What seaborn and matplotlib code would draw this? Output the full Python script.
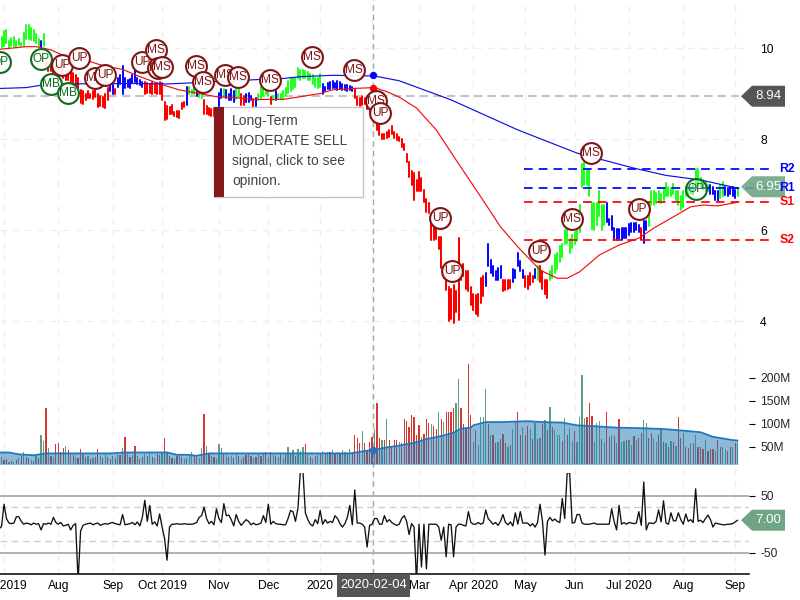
import numpy as np
import pandas as pd
import matplotlib
matplotlib.use("Agg")
import matplotlib.pyplot as plt
from matplotlib.patches import Polygon, Rectangle
import seaborn as sns

sns.set_theme(style="white")
plt.rcParams['font.family'] = ['Liberation Sans', 'DejaVu Sans']

# ---------- DATA ----------
first_bar = -2   # trading-day number of the first bar (0 = 1 Jul 2019)
bar_high = [
 10.2,10.25,10.38,10.4,10.15,10.22,10.24,10.15,10.2,10.12,
 10.33,10.5,10.5,10.45,10.4,10.3,10.2,10.15,10.3,9.78,
 9.7,9.7,9.65,9.6,9.62,9.65,9.55,9.5,9.5,9.55,
 9.45,9.4,9.35,9.08,9.05,9.0,9.05,9.0,9.05,9.08,
 8.98,8.95,8.92,9.0,9.12,9.2,9.18,9.1,9.35,9.4,
 9.6,9.35,9.3,9.32,9.4,9.55,9.35,9.3,9.25,9.25,
 9.22,9.2,9.25,9.2,9.22,9.25,9.22,8.82,8.72,8.7,
 8.75,8.6,8.62,8.62,8.8,8.82,9.15,9.15,9.08,9.2,
 9.15,9.05,9.0,8.85,8.72,8.68,8.65,8.68,8.62,9.02,
 9.1,9.1,9.08,9.0,9.1,9.05,9.1,9.1,8.98,8.95,
 9.0,9.02,8.95,8.88,8.9,9.0,9.15,9.12,9.05,9.08,
 8.92,8.95,9.05,9.0,9.0,9.05,9.12,9.28,9.35,9.35,
 9.35,9.55,9.52,9.52,9.5,9.48,9.42,9.4,9.35,9.35,
 9.42,9.2,9.15,9.22,9.25,9.28,9.22,9.28,9.25,9.2,
 9.18,9.18,9.17,9.15,9.1,8.92,8.9,8.95,8.9,8.85,
 8.75,8.7,8.6,8.4,8.35,8.1,8.1,8.15,8.2,8.28,
 8.15,8.1,8.05,8.0,
 7.9,7.68,7.5,7.3,7.25,7.1,7.28,7.15,6.88,6.68,
 6.6,6.15,6.1,6.05,5.85,5.85,5.2,5.27,4.75,4.7,
 4.8,4.65,5.82,5.2,5.25,5.1,5.1,4.75,4.6,4.58,
 4.6,4.95,5.0,5.05,5.7,5.35,5.2,5.1,5.17,5.2,
 4.9,4.9,4.9,4.9,5.15,5.12,5.5,5.32,5.12,5.0,
 5.0,5.05,5.0,5.15,5.2,5.2,5.1,4.9,4.9,5.1,
 5.2,5.45,5.5,5.65,5.7,6.0,6.05,5.8,5.9,5.95,
 6.0,6.55,7.45,7.48,7.35,7.35,6.6,6.6,6.6,6.85,
 6.55,6.55,6.6,6.25,6.3,6.05,6.02,6.02,6.05,6.05,
 6.05,6.13,6.15,6.15,6.15,6.12,6.05,6.2,6.2,6.62,
 6.85,6.85,6.82,6.85,6.8,6.9,7.03,6.95,6.92,7.02,
 6.85,6.85,6.75,6.85,6.95,6.95,6.95,7.03,7.33,7.33,
 7.15,7.1,7.05,7.0,6.98,6.95,6.85,6.85,7.0,7.05,
 6.95,6.93,6.95,6.95,6.88,6.93]
bar_low = [
 10.0,10.02,10.05,10.1,10.0,10.05,10.05,10.02,10.06,10.04,
 10.05,10.2,10.2,10.17,10.15,10.1,10.05,10.0,10.05,9.6,
 9.5,9.5,9.45,9.42,9.4,9.45,9.35,9.3,9.3,9.25,
 9.15,9.05,9.0,8.8,8.78,8.85,8.9,8.9,8.88,8.92,
 8.7,8.72,8.7,8.68,8.85,9.05,9.0,9.0,9.15,9.2,
 9.0,9.12,9.15,9.12,9.22,9.25,9.2,9.18,9.15,9.0,
 9.02,9.02,9.0,9.02,9.0,9.0,8.85,8.42,8.45,8.55,
 8.55,8.5,8.48,8.47,8.65,8.7,8.75,8.98,8.98,9.0,
 8.95,8.92,8.9,8.55,8.55,8.52,8.5,8.5,8.48,8.68,
 8.9,8.92,8.9,8.85,8.85,8.82,8.88,8.92,8.75,8.74,
 8.82,8.82,8.85,8.7,8.72,8.85,8.9,8.95,8.98,8.95,
 8.78,8.85,8.85,8.88,8.88,8.9,8.95,9.02,9.05,9.1,
 9.15,9.35,9.3,9.35,9.35,9.3,9.3,9.2,9.15,9.12,
 9.15,9.0,9.05,9.1,9.1,9.12,9.12,9.08,9.1,9.08,
 9.08,9.05,9.08,9.05,8.9,8.75,8.72,8.75,8.78,8.65,
 8.62,8.55,8.4,8.2,8.08,8.0,8.0,8.02,8.05,8.12,
 8.02,7.98,7.95,7.83,
 7.75,7.5,7.17,7.0,6.66,6.85,6.85,6.85,6.62,6.4,
 6.37,5.78,5.78,5.8,5.58,5.16,4.95,4.68,4.0,4.05,
 3.95,4.2,4.03,4.9,4.98,4.7,4.65,4.35,4.25,4.15,
 4.1,4.4,4.55,4.78,5.2,5.05,4.98,4.9,4.9,4.95,
 4.67,4.68,4.7,4.72,4.85,4.95,5.2,5.1,4.95,4.75,
 4.7,4.8,4.85,4.95,4.9,4.85,4.7,4.6,4.5,4.9,
 4.95,5.05,5.15,5.3,5.4,5.7,5.72,5.5,5.6,5.7,
 5.75,5.95,6.95,6.98,6.98,6.75,6.02,6.0,6.1,6.3,
 6.0,6.1,6.18,6.12,6.0,5.8,5.78,5.8,5.78,5.82,
 5.82,5.9,5.95,5.95,6.0,5.95,5.78,5.72,6.0,6.08,
 6.55,6.55,6.6,6.62,6.6,6.65,6.75,6.75,6.75,6.8,
 6.65,6.55,6.45,6.5,6.75,6.75,6.8,6.8,6.95,7.0,
 6.95,6.9,6.85,6.85,6.8,6.8,6.65,6.63,6.7,6.75,
 6.78,6.75,6.8,6.75,6.7,6.75]
signal_runs = [("G",17),("B",1),("G",1),("R",26),("B",2),("R",1),("B",11),("R",17),("B",1),
               ("G",3),("B",1),("G",2),("R",6),("B",2),("G",1),("B",4),("G",2),("R",2),("B",3),
               ("R",1),("B",1),("G",5),("R",1),("G",1),("B",1),("G",18),("B",13),("R",53),("B",7),
               ("R",4),("B",5),("R",4),("B",1),("G",1),("R",4),("G",23),("B",14),("R",1),("B",2),
               ("G",25),("B",4),("G",2),("B",5),("G",1)]

volume_m = [
 30,28,22,24,18,20,18,22,26,30,
 38,28,26,22,20,30,26,76,62,134,
 47,30,28,56,58,40,47,52,44,34,
 32,28,26,45,36,28,30,24,26,28,
 45,30,26,34,28,24,30,26,34,32,
 47,71,36,28,32,52,30,24,28,34,
 30,36,28,26,34,32,38,69,36,30,
 26,24,30,34,28,24,26,30,40,32,
 28,26,47,122,52,34,30,28,24,56,
 47,36,32,28,30,26,34,30,24,28,
 32,36,30,26,28,34,30,36,38,28,
 38,32,30,28,36,26,34,50,36,44,
 30,45,42,50,56,34,28,24,30,32,
 34,42,36,40,38,44,34,40,36,44,
 40,36,46,38,76,69,59,85,58,42,
 60,71,88,145,70,65,65,110,65,50,
 65,65,60,58,
 110,107,93,120,116,76,97,71,78,110,
 103,101,96,89,125,110,105,125,125,126,
 134,145,197,135,99,92,230,120,60,87,
 55,115,116,175,100,76,76,58,60,68,
 78,58,50,54,89,105,125,75,94,75,
 96,89,67,102,67,70,100,108,86,136,
 94,86,75,76,62,112,76,92,62,84,
 60,115,207,112,115,145,117,60,102,107,
 67,60,125,72,76,74,58,110,60,62,
 66,66,55,73,66,70,80,108,102,70,
 80,69,60,76,90,60,58,50,62,60,
 52,115,69,81,50,48,58,58,76,50,
 50,45,66,41,46,45,41,66,50,50,
 45,41,50,50,58,58]
volume_dir = ("DUDDUDUDUD" "UDDUDUDUUD" "UDUDDDDUDU" "DUDDUDUDUD" "DUDUDDUDUD" "UDUDUDUDDU"
              "DUDUDDUDUD" "DUDUDUDUUD" "DUUDUDUDUU" "UDUDUDUDUD" "DUDUDUDUDU" "DUDUDUDUDU"
              "DUUUDUDUDU" "DUDUDUDUDU" "UDUDDDDUDD" "DDUDDUDUDD" "DDUD"
              "DDDDDDDUDD" "DUDDUDUDDD" "DUUDDDDDUD" "UUUUDUDDUD" "DDUDUUDDUD" "DUDUDUDUDU"
              "DUUUDUDUUD" "UUUUDDDUUU" "DUDDUDUDUU" "DUUDUDDUUD" "DUUDUDUDUD" "UDDUDDUDUD"
              "DDUDDDUDDU" "UDDUDU")
vol_avg_i = [-2,2,6,12,17,43,49,66,70,74,78,83,140,147,150,155,160,166,171,178,182,185,189,190,195,
             201,212,218,226,232,239,248,257,267,276,282,287,295,297]
vol_avg_m = [38,38,34,32,36,36,38,38,33,33,31,36,36,42,44,49,53,59,67,75,81,90,92,97,104,
             104,106,104,103,97,95,92,91,89,85,82,72,65,64]

osc = [
 -8,-4,35,10,2,1,2,13,13,5,
 0,2,1,-1,2,0,1,-10,1,0,
 2,0,12,3,0,3,-3,-2,0,-10,
 -2,1,-100,-12,-2,0,1,2,-1,1,
 2,-2,0,1,0,2,3,1,0,-1,
 17,-1,0,1,3,-1,4,-3,12,42,
 5,33,0,4,-3,18,-5,-25,-63,-5,
 0,0,1,0,0,1,0,0,0,1,
 3,12,15,30,10,1,5,-1,27,10,
 3,36,15,16,8,-3,17,5,-2,3,
 8,5,-1,2,-1,0,2,15,3,35,
 0,5,1,0,0,-1,-1,10,24,22,
 5,28,95,95,20,8,0,-3,8,1,
 24,0,8,2,5,3,15,10,1,-5,
 1,12,33,-1,60,2,2,0,-5,-40,
 -2,0,10,10,0,0,15,4,8,3,
 0,-2,0,10,
 15,5,-18,1,-5,-100,0,-75,0,-78,
 0,0,0,0,-5,-28,-5,-57,0,-1,
 -57,-5,0,0,-2,-3,22,3,0,0,
 3,0,2,25,10,5,0,3,-2,5,
 17,3,-1,4,-3,20,0,22,2,2,
 2,-3,1,-5,3,35,5,-54,5,12,
 6,9,5,3,45,10,90,90,2,3,
 17,17,2,0,0,0,1,2,0,0,
 0,0,0,0,27,5,-10,33,0,3,
 0,3,2,1,2,22,-2,74,-10,2,
 2,1,5,25,4,41,2,0,20,6,
 6,20,8,0,18,5,8,3,62,5,
 7,3,10,16,8,-5,2,1,0,-1,
 -1,0,0,1,4,7]

ma_red_i = [-2,9,13,19,25,32,39,44,48,55,63,71,79,86,93,101,113,120,128,133,141,150,155,160,167,175,
            183,193,201,208,217,224,228,233,241,249,257,263,271,278,283,289,297]
ma_red = [9.97,10.03,10.03,9.96,9.81,9.75,9.63,9.57,9.53,9.37,9.21,9.08,9.0,8.93,8.91,8.87,8.87,8.93,
          9.0,9.08,9.11,9.13,9.04,8.92,8.68,8.2,7.54,6.73,6.07,5.63,5.12,4.94,4.94,5.08,5.45,5.67,
          5.82,6.04,6.29,6.51,6.55,6.53,6.61]
ma_blue_i = [-2,9,16,25,52,66,79,93,104,113,120,133,150,160,170,181,208,232,255,268,282,297]
ma_blue = [9.11,9.13,9.19,9.21,9.22,9.21,9.24,9.28,9.31,9.33,9.37,9.4,9.385,9.28,9.08,8.86,8.2,7.69,
           7.36,7.2,7.1,6.92]

mark_label = ["OP","OP","MB","MB","UP","UP","MS","UP","UP","MS","MS","MS","MS","MS","MS","MS","MS",
              "MS","MS","MS","UP","UP","UP","UP","MS","MS","UP","OP"]
mark_i = [-1.6,15,19,25.9,23.5,30.4,36.8,40.9,55.9,61.5,62.3,64,77.7,80.6,89.5,94.7,107.7,124.7,141.7,
          150.6,152.2,176.5,181.4,216.6,230,237.7,257,280.2]
mark_price = [9.69,9.76,9.21,9.01,9.63,9.78,9.34,9.41,9.69,9.96,9.56,9.58,9.6,9.25,9.41,9.36,9.3,9.8,
              9.52,8.84,8.57,6.26,5.1,5.54,6.24,7.69,6.46,6.9]

month_i = [0,22,44,64,87,107,128,168,190,211,231,253,275,296]
month_lbl = ["Jul 2019","Aug","Sep","Oct 2019","Nov","Dec","2020","Mar","Apr 2020","May","Jun",
             "Jul 2020","Aug","Sep"]
feb_i = 149
cross_i = 149.5
cross_date = "2020-02-04"
last_ref_price = 8.94
cross_blue = 9.4
cross_red = 9.13
cross_vol = 43
sr_levels = [("R2",7.34,"#0000ff"),("R1",6.92,"#0000ff"),("S1",6.62,"#ff0000"),("S2",5.78,"#ff0000")]
last_close = 6.95
last_osc = 7.00
tooltip_lines = ["Long-Term","MODERATE SELL","signal, click to see","opinion."]

# ---------- FRAMES ----------
signal = [c for c, n in signal_runs for _ in range(n)]
bar_i = list(range(first_bar, first_bar + len(bar_high)))
assert len(bar_high) == len(bar_low) == len(signal) == len(volume_m) == len(volume_dir) == len(osc)
df_bars = pd.DataFrame({"i": bar_i + bar_i, "p": bar_high + bar_low, "signal": signal + signal,
                        "bar": bar_i + bar_i})
df_vol = pd.DataFrame({"i": bar_i, "v": volume_m, "dir": list(volume_dir)})
df_osc = pd.DataFrame({"i": bar_i, "v": osc})

# ---------- LAYOUT ----------
W, H = 800, 600
fig = plt.figure(figsize=(W / 100, H / 100), dpi=100, facecolor="white")
def axes_px(x0, y0, x1, y1, **kw):
    return fig.add_axes([x0 / W, 1 - y1 / H, (x1 - x0) / W, (y1 - y0) / H], **kw)
def fx(x): return x / W
def fy(y): return 1 - y / H

xlim = (-1.62, 301.6)
bg = axes_px(0, 0, 749, 574)
ax = axes_px(0, 0, 749, 360, facecolor="none")
av = axes_px(0, 360, 749, 464, facecolor="none")
ao = axes_px(0, 473, 749, 574, facecolor="none")
for a in (bg, ax, av, ao):
    a.set_xlim(*xlim)
    for s in a.spines.values():
        s.set_visible(False)
    a.set_xticks([]); a.set_yticks([])
    a.set_xlabel(""); a.set_ylabel("")

# background month grid and crosshair
bg.set_ylim(0, 1)
bg.vlines(month_i + [feb_i], 0, 1, color="#eeeeee", lw=0.9, linestyles=(0, (5, 5)))
bg.vlines([cross_i], 0, 1, color="#a8a8a8", lw=1.0, linestyles=(0, (4, 3)), zorder=5)
bg.set_xticks([]); bg.set_yticks([])

# ---------- PRICE ----------
ax.set_ylim(3.143, 11.055)
ax.hlines([4, 6, 8, 10], *xlim, color="#eeeeee", lw=0.9, linestyles=(0, (5, 5)), zorder=0)
ax.hlines([last_ref_price], xlim[0], 297.5, color="#c4c4c4", lw=1.5, linestyles=(0, (4, 2.5)), zorder=1)
sns.lineplot(data=df_bars, x="i", y="p", units="bar", hue="signal", estimator=None, sort=False,
             palette={"G": "#22ff22", "B": "#0a0aff", "R": "#ff0000"}, lw=1.45, legend=False, ax=ax,
             zorder=3)
sns.lineplot(x=ma_red_i, y=ma_red, color="#f01010", lw=0.85, ax=ax, zorder=4)
sns.lineplot(x=ma_blue_i, y=ma_blue, color="#1010e0", lw=0.85, ax=ax, zorder=4)
sns.scatterplot(x=[cross_i], y=[cross_blue], color="#0000ff", s=28, linewidth=0, ax=ax, zorder=6)
sns.scatterplot(x=[cross_i], y=[cross_red], color="#ff0000", s=28, linewidth=0, ax=ax, zorder=6)

for k, (lab, mi, mp) in enumerate(zip(mark_label, mark_i, mark_price)):
    col = "#0f6b1f" if lab in ("OP", "MB") else "#7f1515"
    lw = 1.5
    fc = (1, 1, 1, 0.35) if k == len(mark_label) - 1 else (1, 1, 1, 0.92)
    ax.scatter([mi], [mp], s=225, facecolor=fc, edgecolor=col, linewidth=lw, zorder=10 + k, clip_on=True)
    ax.text(mi, mp, lab, color=col, fontsize=8.6, ha="center", va="center", zorder=10 + k)

trans = ax.get_yaxis_transform()
for lab, lev, col in sr_levels:
    ax.hlines([lev], 210.4, 311, color=col, lw=1.25, linestyles=(0, (5, 3.5)), zorder=5, clip_on=False)

ax.set_yticks([4, 6, 8, 10], ["4", "6", "8", "10"])
ax.yaxis.tick_right()
ax.tick_params(axis="y", length=0, pad=8, labelsize=8.64, labelcolor="black")
ax.set_xticks([]); ax.set_xlabel(""); ax.set_ylabel("")
ax.set_xlim(*xlim)

# ---------- VOLUME ----------
av.set_ylim(13, 239)
sns.barplot(data=df_vol, x="i", y="v", hue="dir", native_scale=True, dodge=False, width=0.5,
            palette={"U": "#5aa87f", "D": "#ee2018"}, legend=False, linewidth=0, ax=av, zorder=2)
av.fill_between(vol_avg_i, 0, vol_avg_m, color="#1f77b4", alpha=0.5, lw=0, zorder=3)
sns.lineplot(x=vol_avg_i, y=vol_avg_m, color="#1f78c0", lw=1.3, ax=av, zorder=4)
sns.scatterplot(x=[cross_i], y=[cross_vol], color="#1f78c0", s=28, linewidth=0, ax=av, zorder=6)
av.set_yticks([50, 100, 150, 200], ["50M", "100M", "150M", "200M"])
av.yaxis.tick_right()
av.tick_params(axis="y", length=4.3, width=0.8, color="black", pad=4, labelsize=8.64, right=True)
av.set_xticks([]); av.set_xlabel(""); av.set_ylabel("")
av.set_xlim(*xlim)

# ---------- OSCILLATOR ----------
ao.set_ylim(-87.2, 89.7)
ao.hlines([50, -50], *xlim, color="#b0b0b0", lw=1.4, zorder=1)
ao.hlines([30, -30], *xlim, color="#cfcfcf", lw=1.0, linestyles=(0, (5, 3)), zorder=1)
sns.lineplot(data=df_osc, x="i", y="v", color="#111111", lw=0.95, ax=ao, zorder=3)
ao.set_yticks([50, -50], ["50", "-50"])
ao.yaxis.tick_right()
ao.tick_params(axis="y", length=4.3, width=0.8, color="black", pad=4, labelsize=8.64, right=True)
ao.set_xticks(month_i, month_lbl)
ao.tick_params(axis="x", length=0, pad=4, labelsize=8.64, labelcolor="black", bottom=True)
ao.set_xlabel(""); ao.set_ylabel("")
ao.set_xlim(*xlim)
ao.spines["bottom"].set_visible(True)
ao.spines["bottom"].set_color("black")
ao.spines["bottom"].set_linewidth(1.1)

# ---------- CHROME IN FIGURE PIXELS ----------
def y_on(a, val):
    return H - a.transData.transform((0, val))[1]

def tag(yc, txt, col, alpha=1.0):
    pts = [(741, yc), (752, yc - 10.5), (785, yc - 10.5), (785, yc + 10.5), (752, yc + 10.5)]
    fig.add_artist(Polygon([(fx(a), fy(b)) for a, b in pts], closed=True, facecolor=col, alpha=alpha,
                           edgecolor="none", transform=fig.transFigure, zorder=20))
    fig.text(fx(768), fy(yc), txt, color="white", fontsize=9.6, ha="center", va="center", zorder=21)

tag(y_on(ax, last_ref_price), f"{last_ref_price:.2f}", "#555555")
tag(y_on(ax, last_close) , f"{last_close:.2f}", "#6fa585", 0.9)
tag(y_on(ao, last_osc), f"{last_osc:.2f}", "#6fa585")

for lab, lev, col in sr_levels:
    fig.text(fx(795), fy(y_on(ax, lev)), lab, color=col, fontsize=8.8, fontweight="bold",
             ha="right", va="center", zorder=22)

# tooltip
fig.add_artist(Rectangle((fx(214), fy(197)), 149 / W, 90 / H, facecolor="white", edgecolor="#c4c4c4",
                         lw=1.0, transform=fig.transFigure, zorder=30))
fig.add_artist(Rectangle((fx(214), fy(197)), 10 / W, 90 / H, facecolor="#861a1a", edgecolor="none",
                         transform=fig.transFigure, zorder=31))
for j, line in enumerate(tooltip_lines):
    fig.text(fx(232), fy(121 + 20 * j), line, color="#444444", fontsize=10, ha="left", va="center", zorder=32)

# crosshair date label
fig.add_artist(Rectangle((fx(337), fy(597)), 73 / W, 23 / H, facecolor="#555555", edgecolor="none",
                         transform=fig.transFigure, zorder=30))
fig.text(fx(373.5), fy(585), cross_date, color="white", fontsize=9.4, ha="center", va="center", zorder=31)

fig.savefig("out.png", dpi=100)
